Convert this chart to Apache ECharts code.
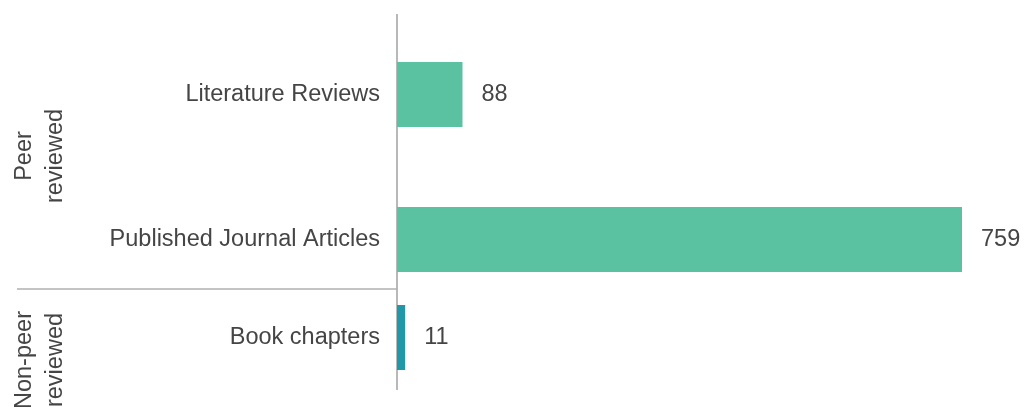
<!DOCTYPE html>
<html><head><meta charset="utf-8">
<script src="https://cdn.jsdelivr.net/npm/echarts@6/dist/echarts.min.js"></script>
<style>html,body{margin:0;padding:0;background:#fff}#c{width:1024px;height:409px}</style>
</head><body><div id="c"></div>
<script>
const peerCategories = ['Literature Reviews', 'Published Journal Articles'];
const peerValues = [88, 759];
const nonPeerCategories = ['Book chapters'];
const nonPeerValues = [11];
const groupLabels = ['Peer\nreviewed', 'Non-peer\nreviewed'];

const FONT = 'Liberation Sans';
const TXT = '#454545';
const FS = 23.5;
const chart = echarts.init(document.getElementById('c'));
const yCommon = {
  type: 'category', inverse: true,
  axisLine: {show: false}, axisTick: {show: false},
  axisLabel: {margin: 17, fontSize: FS, color: TXT, fontFamily: FONT}
};
const xCommon = {type: 'value', min: 0, max: 759, show: false};
const labelCommon = {show: true, position: 'right', distance: 19, fontSize: FS, color: TXT, fontFamily: FONT};
chart.setOption({
  animation: false,
  grid: [
    {left: 397, width: 565, top: 22, height: 290},
    {left: 397, width: 565, top: 286, height: 103}
  ],
  xAxis: [Object.assign({gridIndex: 0}, xCommon), Object.assign({gridIndex: 1}, xCommon)],
  yAxis: [
    Object.assign({gridIndex: 0, data: peerCategories}, yCommon),
    Object.assign({gridIndex: 1, data: nonPeerCategories}, yCommon)
  ],
  series: [
    {type: 'bar', xAxisIndex: 0, yAxisIndex: 0, data: peerValues, barWidth: 65,
     itemStyle: {color: '#5BC2A1'}, label: labelCommon},
    {type: 'bar', xAxisIndex: 1, yAxisIndex: 1, data: nonPeerValues, barWidth: 65,
     itemStyle: {color: '#2197A7'}, label: labelCommon}
  ],
  graphic: [
    {type: 'line', shape: {x1: 397, y1: 14, x2: 397, y2: 390}, style: {stroke: '#a0a0a0', lineWidth: 1.5}},
    {type: 'line', shape: {x1: 17, y1: 289, x2: 397, y2: 289}, style: {stroke: '#b0b0b0', lineWidth: 1.5}},
    {type: 'text', x: 40, y: 156, rotation: Math.PI / 2,
     style: {text: groupLabels[0], fontSize: FS, lineHeight: 31, fill: TXT, fontFamily: FONT, textAlign: 'center', textVerticalAlign: 'middle'}},
    {type: 'text', x: 40, y: 360, rotation: Math.PI / 2,
     style: {text: groupLabels[1], fontSize: FS, lineHeight: 31, fill: TXT, fontFamily: FONT, textAlign: 'center', textVerticalAlign: 'middle'}}
  ]
});
</script>
</body></html>
